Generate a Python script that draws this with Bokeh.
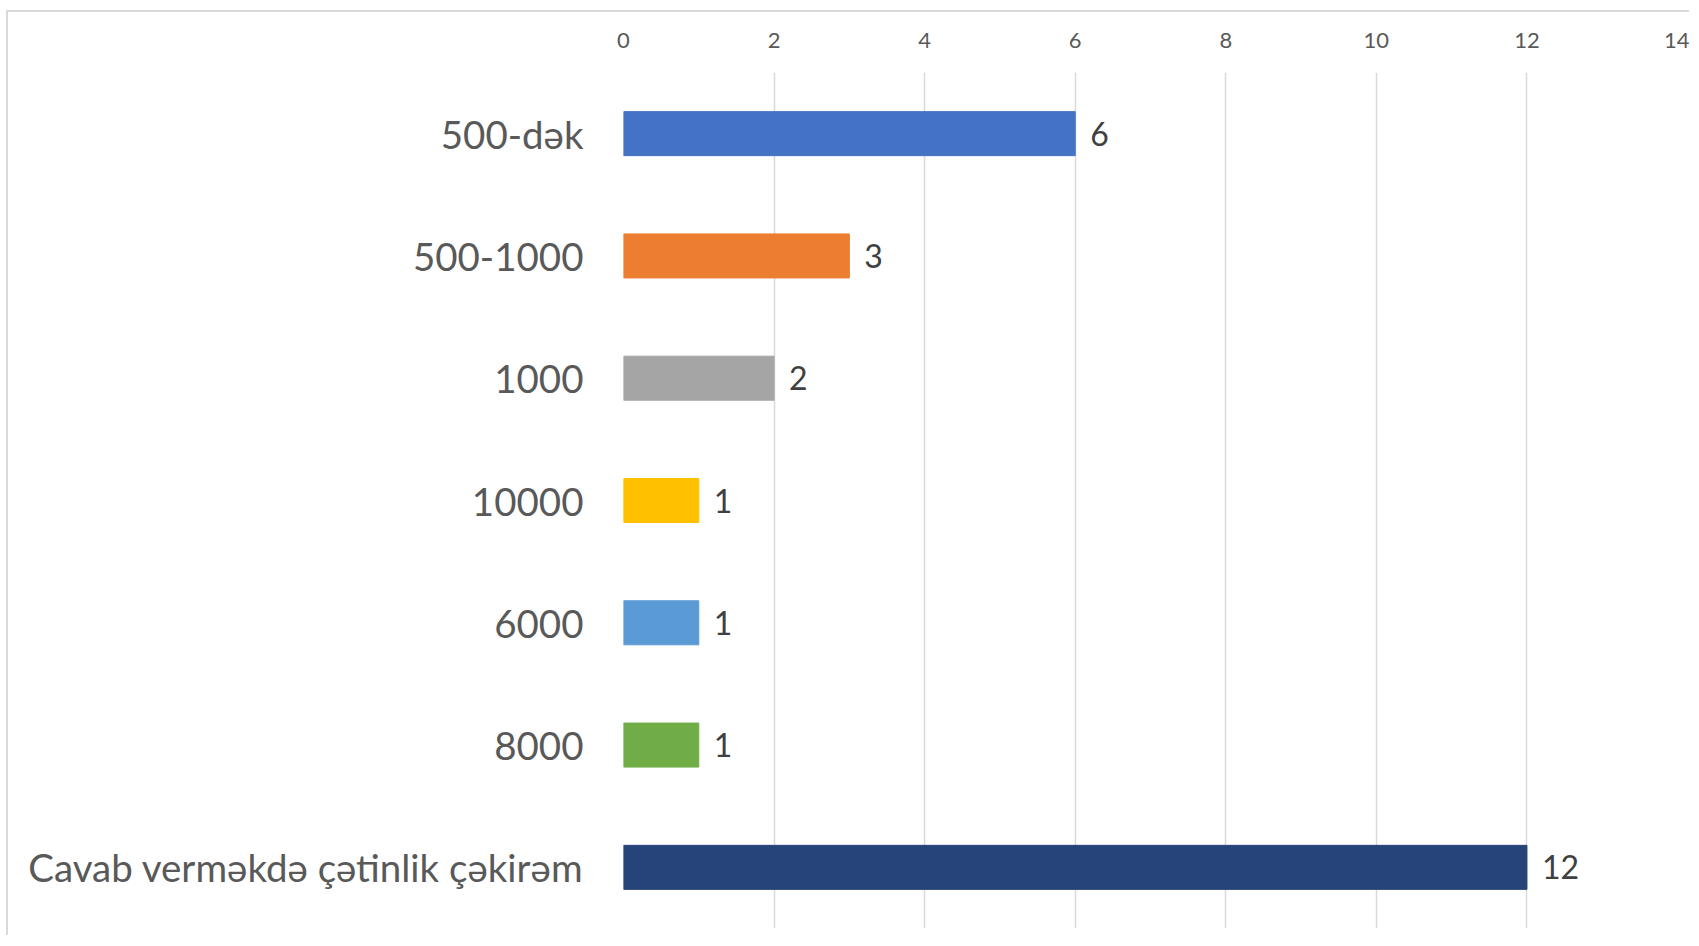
from bokeh.plotting import figure
from bokeh.models import FactorRange, Range1d, FixedTicker, ColumnDataSource
from bokeh.core.properties import value
from bokeh.embed import file_html
from bokeh.resources import INLINE

categories = ["500-dək", "500-1000", "1000", "10000", "6000", "8000", "Cavab verməkdə çətinlik çəkirəm"]
counts = [6, 3, 2, 1, 1, 1, 12]
colors = ["#4472C4", "#ED7D31", "#A5A5A5", "#FFC000", "#5B9BD5", "#70AD47", "#264478"]
x_ticks = [0, 2, 4, 6, 8, 10, 12, 14]

src = ColumnDataSource(dict(cat=categories, val=counts, color=colors,
                            lbl=[str(v) for v in counts]))

p = figure(width=1683, height=925, output_backend="svg", toolbar_location=None,
           y_range=FactorRange(factors=list(reversed(categories)), range_padding=0),
           x_range=Range1d(0, 14), x_axis_location="above",
           min_border_left=615, min_border_right=14, min_border_top=60, min_border_bottom=9)
p.styles = {"border-top": "2px solid #d9d9d9", "border-left": "2px solid #d9d9d9",
            "margin-left": "6px", "margin-top": "10px"}
p.outline_line_color = None

p.hbar(y="cat", right="val", left=0, height=0.36, color="color", source=src)
p.text(x="val", y="cat", text="lbl", source=src, x_offset=15, text_baseline="middle",
       text_align="left", text_font=value("Lato"), text_font_size="32px", text_color="#404040")

xa = p.xaxis[0]
xa.ticker = FixedTicker(ticks=x_ticks)
xa.axis_line_color = None
xa.major_tick_line_color = None
xa.minor_tick_line_color = None
xa.major_label_text_font = "Lato"
xa.major_label_text_font_size = "22px"
xa.major_label_text_color = "#595959"
xa.major_label_standoff = 19

ya = p.yaxis[0]
ya.axis_line_color = None
ya.major_tick_line_color = None
ya.minor_tick_line_color = None
ya.major_label_text_font = "Lato"
ya.major_label_text_font_size = "38.5px"
ya.major_label_text_color = "#595959"
ya.major_label_standoff = 34

p.xgrid.grid_line_color = "#d9d9d9"
p.xgrid.grid_line_width = 1.5
p.xgrid.ticker = FixedTicker(ticks=x_ticks)
p.ygrid.grid_line_color = None

open("out.html", "w").write(file_html(p, INLINE))
